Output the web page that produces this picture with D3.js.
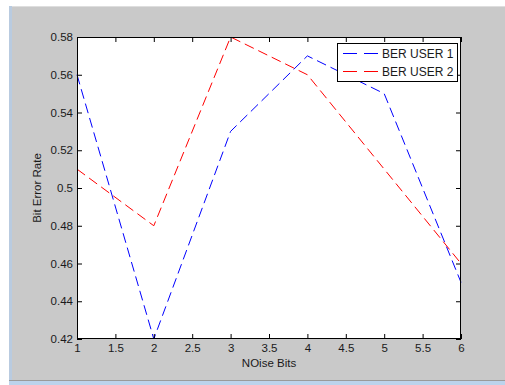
<!DOCTYPE html>
<html>
<head>
<meta charset="utf-8">
<script src="https://cdn.jsdelivr.net/npm/d3@7"></script>
<style>
  body { margin: 0; background: #ffffff; }
  svg { display: block; }
  text { font-family: "Liberation Sans", Arial, sans-serif; fill: #1a1a1a; }
</style>
</head>
<body>
<div class="chart"></div>
<script>
// data
const noiseBits = [1, 2, 3, 4, 5, 6];
const berUser1 = [0.56, 0.42, 0.53, 0.57, 0.55, 0.45];
const berUser2 = [0.51, 0.48, 0.58, 0.56, 0.51, 0.46];
const seriesNames = ["BER USER 1", "BER USER 2"];
const seriesColors = ["#0000ff", "#ff0000"];
const xTicks = [1, 1.5, 2, 2.5, 3, 3.5, 4, 4.5, 5, 5.5, 6];
const yTicks = [0.42, 0.44, 0.46, 0.48, 0.5, 0.52, 0.54, 0.56, 0.58];

const width = 505, height = 385;
const plot = {left: 77, top: 37, right: 461, bottom: 339};

const svg = d3.select(".chart").append("svg")
  .attr("width", width)
  .attr("height", height);

// window chrome around the figure
svg.append("rect").attr("x", 0).attr("y", 0).attr("width", width).attr("height", height).attr("fill", "#ffffff");
svg.append("rect").attr("x", 9).attr("y", 6).attr("width", width - 9).attr("height", 375).attr("fill", "#c9c9c9");
svg.append("rect").attr("x", 9).attr("y", 6).attr("width", 3).attr("height", 375).attr("fill", "#b9cbe0");
svg.append("line").attr("x1", 12).attr("x2", width).attr("y1", 6.5).attr("y2", 6.5).attr("stroke", "#dedede");
svg.append("line").attr("x1", 9).attr("x2", width).attr("y1", 380.5).attr("y2", 380.5).attr("stroke", "#9a9a9a");
svg.append("rect").attr("x", 9).attr("y", 381).attr("width", width - 9).attr("height", 4).attr("fill", "#bcd3ec");

const x = d3.scaleLinear().domain([1, 6]).range([plot.left, plot.right]);
const y = d3.scaleLinear().domain([0.42, 0.58]).range([plot.bottom, plot.top]);

// axes background
svg.append("rect")
  .attr("x", plot.left).attr("y", plot.top)
  .attr("width", plot.right - plot.left).attr("height", plot.bottom - plot.top)
  .attr("fill", "#ffffff");

// data lines
const line = d3.line()
  .x((d, i) => x(noiseBits[i]))
  .y(d => y(d));

[berUser1, berUser2].forEach(function (values, i) {
  svg.append("path")
    .datum(values)
    .attr("fill", "none")
    .attr("stroke", seriesColors[i])
    .attr("stroke-width", 1)
    .attr("stroke-dasharray", "10,5")
    .attr("d", line);
});

// axes, ticks pointing inward on all four sides
const tickLen = 5;

svg.append("g")
  .attr("transform", "translate(0," + plot.bottom + ")")
  .call(d3.axisBottom(x).tickValues(xTicks).tickFormat(d3.format("")).tickSizeInner(-tickLen).tickSizeOuter(0).tickPadding(5));
svg.append("g")
  .attr("transform", "translate(0," + plot.top + ")")
  .call(d3.axisTop(x).tickValues(xTicks).tickFormat("").tickSizeInner(-tickLen).tickSizeOuter(0));
svg.append("g")
  .attr("transform", "translate(" + plot.left + ",0)")
  .call(d3.axisLeft(y).tickValues(yTicks).tickFormat(d => d3.format("")(+d.toFixed(2))).tickSizeInner(-tickLen).tickSizeOuter(0).tickPadding(4));
svg.append("g")
  .attr("transform", "translate(" + plot.right + ",0)")
  .call(d3.axisRight(y).tickValues(yTicks).tickFormat("").tickSizeInner(-tickLen).tickSizeOuter(0));

svg.selectAll(".domain").remove();
svg.selectAll(".tick line").attr("stroke", "#000");
svg.selectAll(".tick text")
  .style("font-family", "'Liberation Sans', Arial, sans-serif")
  .style("font-size", "11.5px")
  .attr("fill", "#1a1a1a");

// box
svg.append("rect")
  .attr("x", plot.left + 0.5).attr("y", plot.top + 0.5)
  .attr("width", plot.right - plot.left - 1).attr("height", plot.bottom - plot.top - 1)
  .attr("fill", "none")
  .attr("stroke", "#000");

// axis labels
svg.append("text")
  .attr("x", (plot.left + plot.right) / 2)
  .attr("y", 367)
  .attr("text-anchor", "middle")
  .style("font-size", "11.5px")
  .text("NOise Bits");

svg.append("text")
  .attr("transform", "translate(41," + ((plot.top + plot.bottom) / 2) + ") rotate(-90)")
  .attr("text-anchor", "middle")
  .style("font-size", "11.5px")
  .text("Bit Error Rate");

// legend
const legend = svg.append("g");
const lx = 337, ly = 43, lw = 120, lh = 38;
legend.append("rect")
  .attr("x", lx + 0.5).attr("y", ly + 0.5)
  .attr("width", lw).attr("height", lh)
  .attr("fill", "#ffffff")
  .attr("stroke", "#000");

seriesNames.forEach(function (name, i) {
  const cy = ly + 10.5 + i * 18;
  legend.append("line")
    .attr("x1", lx + 6).attr("x2", lx + 42)
    .attr("y1", cy).attr("y2", cy)
    .attr("stroke", seriesColors[i])
    .attr("stroke-dasharray", "14,7");
  legend.append("text")
    .attr("x", lx + 45)
    .attr("y", cy + 4)
    .style("font-size", "12px")
    .text(name);
});
</script>
</body>
</html>
